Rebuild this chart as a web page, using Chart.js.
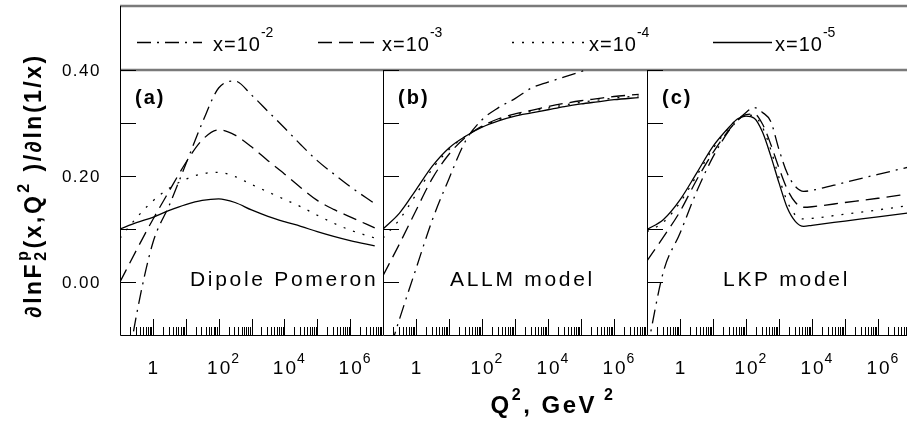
<!DOCTYPE html>
<html>
<head>
<meta charset="utf-8">
<script src="https://cdn.jsdelivr.net/npm/chart.js@4.4.1/dist/chart.umd.min.js"></script>
<style>
  html, body { margin: 0; padding: 0; background: #fff; }
  #wrap { position: relative; width: 907px; height: 421px; overflow: hidden; }
  #wrap canvas { position: absolute; left: 0; top: 0; }
</style>
</head>
<body>
<div id="wrap">
  <canvas id="panelA" width="940" height="421"></canvas>
  <canvas id="panelB" width="940" height="421"></canvas>
  <canvas id="panelC" width="940" height="421"></canvas>
</div>
<script>
// Q^2 grids (GeV^2) used for panels (a) and (b)
const q2AB = [0.1, 0.316, 1, 3.16, 10, 31.6, 100, 316, 1000, 3160, 1e4, 3.16e4, 1e5, 3.16e5, 1e6, 5.6e6];
// panel (c) needs a finer grid around the peak and the dip
const q2C = [0.1, 0.316, 1, 3.16, 10, 31.6, 56.2, 100, 178, 316, 562, 1000, 1780, 3160, 5620, 1e4, 1e5, 1e6, 1e7];

// (a) Dipole Pomeron
const dipoleX2 = [-0.25, -0.063, 0.074, 0.145, 0.222, 0.300, 0.366, 0.379, 0.353, 0.322, 0.291, 0.259, 0.229, 0.204, 0.180, 0.148];
const dipoleX3 = [0.000, 0.060, 0.118, 0.172, 0.225, 0.268, 0.287, 0.277, 0.255, 0.229, 0.204, 0.178, 0.154, 0.137, 0.123, 0.102];
const dipoleX4 = [0.083, 0.121, 0.153, 0.177, 0.194, 0.204, 0.207, 0.199, 0.184, 0.170, 0.156, 0.142, 0.126, 0.111, 0.098, 0.083];
const dipoleX5 = [0.100, 0.112, 0.122, 0.135, 0.146, 0.154, 0.157, 0.150, 0.136, 0.124, 0.114, 0.105, 0.095, 0.086, 0.078, 0.068];

// (b) ALLM model
const allmX2 = [-0.17, -0.070, 0.025, 0.118, 0.195, 0.266, 0.306, 0.329, 0.346, 0.366, 0.377, 0.387, 0.397, 0.408, 0.418, 0.430];
const allmX3 = [0.012, 0.072, 0.135, 0.196, 0.241, 0.273, 0.294, 0.308, 0.317, 0.324, 0.331, 0.337, 0.342, 0.346, 0.350, 0.354];
const allmX4 = [0.083, 0.118, 0.165, 0.214, 0.250, 0.275, 0.293, 0.306, 0.315, 0.322, 0.328, 0.334, 0.339, 0.343, 0.347, 0.351];
const allmX5 = [0.100, 0.130, 0.174, 0.219, 0.253, 0.275, 0.292, 0.304, 0.313, 0.319, 0.325, 0.331, 0.336, 0.340, 0.344, 0.348];

// (c) LKP model
const lkpX2 = [-0.13, 0.020, 0.092, 0.170, 0.236, 0.287, 0.305, 0.320, 0.329, 0.320, 0.303, 0.250, 0.205, 0.180, 0.171, 0.173, 0.188, 0.203, 0.218];
const lkpX3 = [0.040, 0.085, 0.133, 0.192, 0.244, 0.288, 0.305, 0.316, 0.317, 0.298, 0.260, 0.215, 0.175, 0.150, 0.141, 0.142, 0.150, 0.158, 0.167];
const lkpX4 = [0.095, 0.113, 0.150, 0.200, 0.252, 0.292, 0.308, 0.315, 0.313, 0.292, 0.250, 0.197, 0.152, 0.126, 0.119, 0.120, 0.128, 0.136, 0.145];
const lkpX5 = [0.099, 0.118, 0.155, 0.205, 0.256, 0.293, 0.308, 0.313, 0.309, 0.283, 0.238, 0.187, 0.140, 0.114, 0.105, 0.107, 0.115, 0.123, 0.131];

// legend: x = 10^-2 ... 10^-5
const legendBase = 'x=10';
const legendExp = ['-2', '-3', '-4', '-5'];
const lineDashes = [[14, 6, 2, 6], [14, 7], [2, 8], []];

// axes
const yTickValues = [0.4, 0.3, 0.2, 0.1, 0.0];
const yLabelValues = [0.4, 0.2, 0.0];
const yLabelText = ['0.40', '0.20', '0.00'];
const xLabelValues = [1, 100, 1e4, 1e6];
const xLabelBase = ['1', '10', '10', '10'];
const xLabelExp = ['', '2', '4', '6'];

const FONT = "'Liberation Sans', Arial, sans-serif";

function setFont(ctx, size, bold, spacing) {
  ctx.font = `${bold ? 'bold ' : ''}${size}px ${FONT}`;
  ctx.letterSpacing = (spacing || 0) + 'px';
}

function textW(ctx, str) {
  return ctx.measureText(str).width;
}

function buildDatasets(q2, series) {
  return series.map((vals, i) => ({
    data: vals.map((v, j) => ({ x: q2[j], y: v })),
    borderColor: '#000',
    borderWidth: 1.3,
    borderDash: lineDashes[i],
    pointRadius: 0,
    fill: false,
    cubicInterpolationMode: 'monotone'
  }));
}

function minorTickValues() {
  const out = [];
  for (let e = -1; e < 7; e += 1) {
    for (let m = 1; m < 10; m += 1) out.push(m * Math.pow(10, e));
  }
  out.push(1e7);
  return out;
}

function panelDecor(letter, modelName, nameX) {
  return {
    id: 'panelDecor',
    afterDraw(chart) {
      const { ctx, chartArea: area } = chart;
      const { x, y } = chart.scales;
      ctx.save();
      ctx.setLineDash([]);
      ctx.strokeStyle = '#000';
      ctx.fillStyle = '#000';
      ctx.lineWidth = 1;

      ctx.beginPath();
      ctx.moveTo(area.left + 0.5, area.top);
      ctx.lineTo(area.left + 0.5, area.bottom + 0.5);
      ctx.lineTo(area.right, area.bottom + 0.5);

      yTickValues.forEach(v => {
        const py = Math.round(y.getPixelForValue(v)) + 0.5;
        ctx.moveTo(area.left, py);
        ctx.lineTo(area.left + 16, py);
      });

      minorTickValues().forEach(v => {
        const px = Math.round(x.getPixelForValue(v)) + 0.5;
        const major = Math.abs(Math.log10(v) - Math.round(Math.log10(v))) < 1e-9;
        ctx.moveTo(px, area.bottom);
        ctx.lineTo(px, area.bottom - (major ? 16 : 8));
      });
      ctx.stroke();

      // x tick labels, base centred on the tick, exponent after it
      xLabelValues.forEach((v, i) => {
        const px = x.getPixelForValue(v);
        setFont(ctx, 19, false, 2);
        const w = textW(ctx, xLabelBase[i]);
        ctx.textAlign = 'left';
        ctx.fillText(xLabelBase[i], px - w / 2 + 1, 374);
        if (xLabelExp[i]) {
          setFont(ctx, 14, false, 0);
          ctx.fillText(xLabelExp[i], px + w / 2, 363);
        }
      });

      setFont(ctx, 20, true, 2);
      ctx.textAlign = 'left';
      ctx.fillText(letter, area.left + 15, 104);

      setFont(ctx, 21, false, 2.7);
      ctx.fillText(modelName, nameX, 286);
      ctx.restore();
    }
  };
}

const frameDecor = {
  id: 'frameDecor',
  beforeDatasetsDraw(chart) {
    const { ctx, chartArea: area } = chart;
    const { y } = chart.scales;
    ctx.save();
    ctx.setLineDash([]);

    // legend box and top frame
    ctx.strokeStyle = '#7a7a7a';
    ctx.lineWidth = 2.5;
    ctx.beginPath();
    ctx.moveTo(area.left, 6);
    ctx.lineTo(940, 6);
    ctx.moveTo(area.left, area.top);
    ctx.lineTo(940, area.top);
    ctx.stroke();
    ctx.strokeStyle = '#000';
    ctx.lineWidth = 1;
    ctx.beginPath();
    ctx.moveTo(area.left + 0.5, 6);
    ctx.lineTo(area.left + 0.5, area.top);
    ctx.stroke();

    // legend entries
    const sampleX = [[137, 202], [318, 380], [512, 585], [713, 772]];
    const textX = [213, 382, 589, 775];
    ctx.fillStyle = '#000';
    legendExp.forEach((exp, i) => {
      ctx.setLineDash(lineDashes[i]);
      ctx.lineWidth = 1.3;
      ctx.beginPath();
      ctx.moveTo(sampleX[i][0], 42.5);
      ctx.lineTo(sampleX[i][1], 42.5);
      ctx.stroke();
      ctx.setLineDash([]);
      setFont(ctx, 20, false, 1);
      ctx.textAlign = 'left';
      ctx.fillText(legendBase, textX[i], 51);
      const w = textW(ctx, legendBase);
      setFont(ctx, 14, false, 0);
      ctx.fillText(exp, textX[i] + w, 37);
    });

    // y tick labels
    setFont(ctx, 17, false, 1.5);
    ctx.textAlign = 'right';
    ctx.textBaseline = 'middle';
    yLabelValues.forEach((v, i) => {
      ctx.fillText(yLabelText[i], 101, y.getPixelForValue(v) + 1);
    });
    ctx.textBaseline = 'alphabetic';

    // y axis title, rotated
    const pieces = [
      { t: '\u2202lnF', s: 23, dy: 0 },
      { t: '2', s: 16, dy: 5, stackWith: 'p' },
      { t: '(x,Q', s: 23, dy: 0 },
      { t: '2', s: 16, dy: -12 },
      { t: ' )/\u2202ln(1/x)', s: 23, dy: 0 }
    ];
    let total = 0;
    pieces.forEach(p => {
      setFont(ctx, p.s, true, 2.5);
      p.w = textW(ctx, p.t);
      total += p.w + 1;
    });
    ctx.translate(41, 185 + total / 2);
    ctx.rotate(-Math.PI / 2);
    ctx.textAlign = 'left';
    let cx = 0;
    pieces.forEach(p => {
      setFont(ctx, p.s, true, 2.5);
      ctx.fillText(p.t, cx, p.dy);
      if (p.stackWith) ctx.fillText(p.stackWith, cx, -13);
      cx += p.w + 1;
    });
    ctx.setTransform(1, 0, 0, 1, 0, 0);

    // x axis title
    const xt = [
      { t: 'Q', s: 24, dy: 0 },
      { t: '2', s: 16, dy: -13 },
      { t: ', GeV', s: 24, dy: 0 },
      { t: ' 2', s: 16, dy: -13 }
    ];
    let xw = 0;
    xt.forEach(p => {
      setFont(ctx, p.s, true, 2.5);
      p.w = textW(ctx, p.t);
      xw += p.w;
    });
    let tx = 553 - xw / 2;
    xt.forEach(p => {
      setFont(ctx, p.s, true, 2.5);
      ctx.fillText(p.t, tx, 413 + p.dy);
      tx += p.w;
    });
    ctx.restore();
  }
};

function makePanel(canvasId, q2, series, left, right, extraPlugins) {
  return new Chart(document.getElementById(canvasId), {
    type: 'line',
    data: { datasets: buildDatasets(q2, series) },
    options: {
      responsive: false,
      animation: false,
      devicePixelRatio: 1,
      layout: { padding: { left, right: 940 - right, top: 70, bottom: 421 - 335 } },
      plugins: { legend: { display: false }, tooltip: { enabled: false } },
      scales: {
        x: { type: 'logarithmic', min: 0.1, max: 1e7, display: false },
        y: { type: 'linear', min: -0.1, max: 0.4, display: false }
      }
    },
    plugins: extraPlugins
  });
}

makePanel('panelA', q2AB, [dipoleX2, dipoleX3, dipoleX4, dipoleX5], 120, 383,
  [frameDecor, panelDecor('(a)', 'Dipole Pomeron', 190)]);
makePanel('panelB', q2AB, [allmX2, allmX3, allmX4, allmX5], 383, 647,
  [panelDecor('(b)', 'ALLM model', 450)]);
makePanel('panelC', q2C, [lkpX2, lkpX3, lkpX4, lkpX5], 647, 911,
  [panelDecor('(c)', 'LKP model', 723)]);
</script>
</body>
</html>
